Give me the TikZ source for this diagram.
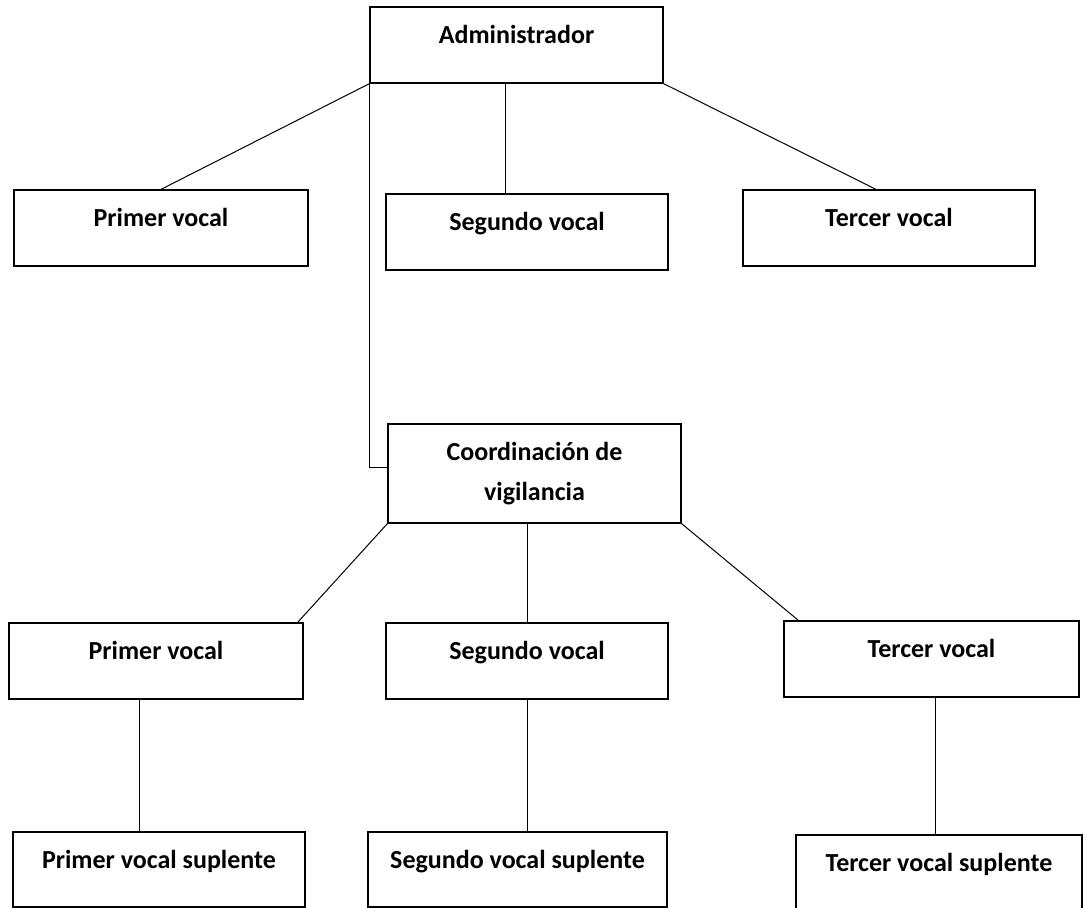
\documentclass[tikz,border=0pt]{standalone}
\usepackage{fontspec}
\setmainfont{Carlito}
\usepackage{tikz}
\usetikzlibrary{positioning}
\tikzset{
  orgchart/.style={x=0.5pt,y=-0.5pt,font=\bfseries\fontsize{13}{20}\selectfont},
  unit/.style={draw,line width=0.65pt,inner xsep=0pt,inner ysep=0pt,align=center,
    minimum height=38pt,text height=18.25pt,text depth=19.75pt},
  subunit/.style={unit,minimum height=37.5pt,text depth=19.25pt},
  twoline/.style={draw,line width=0.65pt,inner sep=0pt,align=center,minimum height=49.5pt},
  link/.style={line width=0.5pt},
}
\begin{document}
\begin{tikzpicture}[orgchart]
\useasboundingbox (0,0) rectangle (1090,907);
% top level
\node[unit,minimum width=146.5pt] (adm) at (516.5,45) {Administrador};
\node[unit,minimum width=147pt] (pv1) at (161,228) {Primer vocal};
\node[unit,minimum width=141pt] (sv1) at (527,232) {Segundo vocal};
\node[unit,minimum width=146pt] (tv1) at (889,228) {Tercer vocal};
% coordination branch
\node[twoline,minimum width=146.5pt] (coord) at (534.5,473.5) {Coordinación de\\vigilancia};
\node[unit,minimum width=147pt] (pv2) at (156,661) {Primer vocal};
\node[unit,minimum width=141pt] (sv2) at (527,661) {Segundo vocal};
\node[unit,minimum width=147.5pt] (tv2) at (931.5,659) {Tercer vocal};
\node[subunit,minimum width=146pt] (ps) at (159,869.5) {Primer vocal suplente};
\node[subunit,minimum width=149.5pt] (ss) at (517.5,869.5) {Segundo vocal suplente};
\node[subunit,minimum width=143pt] (ts) at (939,872.5) {Tercer vocal suplente};
\coordinate (cin) at ([yshift=3.25pt]coord.west);

\draw[link] (adm.south west) -- (pv1.north);
\draw[link] ([xshift=-5.75pt]adm.south) -- ([xshift=-5.75pt]adm.south |- sv1.north);
\draw[link] (adm.south east) -- ([xshift=-6.5pt]tv1.north);
\draw[link] (adm.south west) -- (adm.south west |- cin) -- (cin);

\draw[link] (coord.south west) -- ([xshift=-3pt]pv2.north east);
\draw[link] (sv2.north) -- (sv2.north |- coord.south);
\draw[link] (coord.south east) -- ([xshift=7.5pt]tv2.north west);

\draw[link] ([xshift=-8.5pt]pv2.south) -- ([xshift=-8.5pt]pv2.south |- ps.north);
\draw[link] (sv2.south) -- (sv2.south |- ss.north);
\draw[link] ([xshift=2pt]tv2.south) -- ([xshift=2pt]tv2.south |- ts.north);
\end{tikzpicture}
\end{document}
